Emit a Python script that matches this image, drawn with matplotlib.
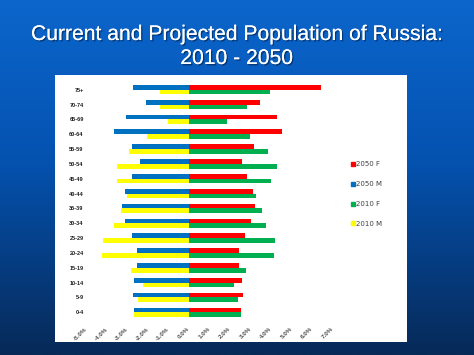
import numpy as np
import matplotlib
matplotlib.use('Agg')
import matplotlib.pyplot as plt
import matplotlib.patheffects as pe
from matplotlib.colors import LinearSegmentedColormap
from matplotlib.patches import Rectangle
from matplotlib.lines import Line2D

# age groups from youngest to oldest (oldest drawn at top)
age_groups = ['0-4', '5-9', '10-14', '15-19', '20-24', '25-29', '30-34', '35-39',
              '40-44', '45-49', '50-54', '55-59', '60-64', '65-69', '70-74', '75+']

# share of total population, % (males negative)
f_2050 = [2.56, 2.62, 2.58, 2.46, 2.46, 2.71, 3.03, 3.23,
          3.11, 2.85, 2.58, 3.18, 4.53, 4.28, 3.45, 6.45]
m_2050 = [-2.68, -2.75, -2.68, -2.55, -2.55, -2.80, -3.12, -3.28,
          -3.12, -2.77, -2.40, -2.80, -3.67, -3.07, -2.11, -2.72]
f_2010 = [2.56, 2.37, 2.19, 2.79, 4.14, 4.20, 3.77, 3.54,
          3.28, 3.98, 4.27, 3.83, 2.97, 1.84, 2.82, 3.93]
m_2010 = [-2.68, -2.47, -2.26, -2.84, -4.26, -4.18, -3.64, -3.33,
          -3.04, -3.50, -3.53, -2.93, -2.03, -1.04, -1.41, -1.41]

x_ticks = [-5, -4, -3, -2, -1, 0, 1, 2, 3, 4, 5, 6, 7]

c_red, c_blue, c_green, c_yellow = '#ff0000', '#0070c0', '#00b050', '#ffff00'

W, H = 474, 355
fig = plt.figure(figsize=(W / 100, H / 100), dpi=100)

# slide background: blue gradient
bg = fig.add_axes([0, 0, 1, 1])
bg.set_axis_off()
cmap = LinearSegmentedColormap.from_list('slide', [(0, '#0c66cc'), (0.45, '#0452b0'), (1, '#072a58')])
grad = np.linspace(0, 1, 256).reshape(-1, 1)
bg.imshow(grad, aspect='auto', cmap=cmap, extent=[0, 1, 0, 1], origin='upper')
bg.set_xlim(0, 1)
bg.set_ylim(0, 1)

# white chart panel
bg.add_patch(Rectangle((55 / W, 1 - 342 / H), 352 / W, 267 / H, facecolor='white', edgecolor='none'))

# title, two centred lines
shadow = [pe.withSimplePatchShadow(offset=(1, -1), shadow_rgbFace='#00204a', alpha=0.6), pe.Normal()]
for txt, base in [('Current and Projected Population of Russia:', 40), ('2010 - 2050', 64)]:
    fig.text(0.5, 1 - base / H, txt, ha='center', va='baseline', color='white',
             fontsize=15.2, family='Liberation Sans', path_effects=shadow)

ax = fig.add_axes([86.5 / W, 1 - 319.7 / H, 246 / W, 237.4 / H])
ax.set_facecolor('none')
y = np.arange(len(age_groups))
h = 0.32
ax.barh(y + 0.16, f_2050, height=h, color=c_red, label='2050 F')
ax.barh(y + 0.16, m_2050, height=h, color=c_blue, label='2050 M')
ax.barh(y - 0.16, f_2010, height=h, color=c_green, label='2010 F')
ax.barh(y - 0.16, m_2010, height=h, color=c_yellow, label='2010 M')

ax.set_xlim(-5, 7)
ax.set_ylim(-0.5, len(age_groups) - 0.5)
ax.set_yticks(y)
ax.set_yticklabels(age_groups, fontsize=4, fontweight='bold', family='Liberation Sans', color='#202020')
ax.set_xticks(x_ticks)
ax.set_xticklabels(['%.1f%%' % v for v in x_ticks], fontsize=4.5, fontweight='bold',
                   family='Liberation Sans', color='#505050', rotation=45, ha='right',
                   va='center', rotation_mode='anchor')
ax.tick_params(axis='y', length=0, pad=2)
ax.tick_params(axis='x', length=0, pad=6)
for s in ax.spines.values():
    s.set_visible(False)

# legend with small square keys
handles = [Line2D([], [], marker='s', linestyle='none', markersize=2.5, color=c)
           for c in (c_red, c_blue, c_green, c_yellow)]
fig.legend(handles, ['2050 F', '2050 M', '2010 F', '2010 M'], loc='center left',
           bbox_to_anchor=(347 / W, 1 - 194 / H), frameon=False, fontsize=5,
           labelspacing=2.0, handlelength=0.6, handletextpad=0.2, borderpad=0,
           labelcolor='#404040')

fig.savefig('out.png', dpi=100)
